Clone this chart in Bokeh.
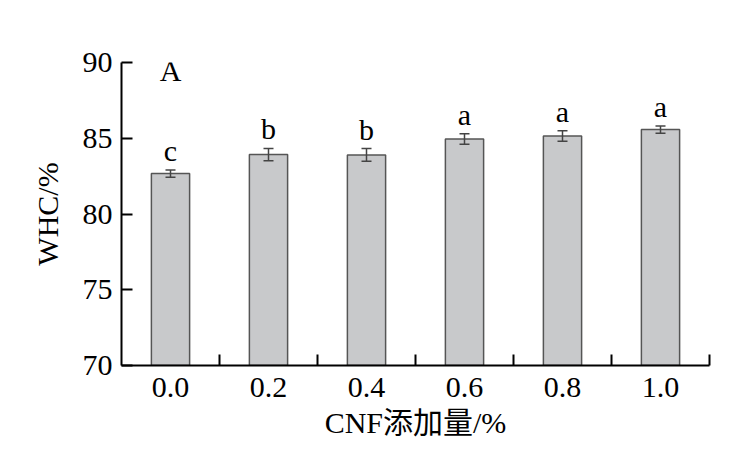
from bokeh.plotting import figure
from bokeh.models import ColumnDataSource, FixedTicker, Whisker, TeeHead, Label, Range1d
from bokeh.core.properties import value
from bokeh.embed import file_html
from bokeh.resources import INLINE

categories = ["0.0", "0.2", "0.4", "0.6", "0.8", "1.0"]
whc = [82.67, 83.92, 83.90, 84.95, 85.15, 85.57]
err = [0.24, 0.41, 0.42, 0.35, 0.35, 0.24]
letters = ["c", "b", "b", "a", "a", "a"]
y_ticks = [70, 75, 80, 85, 90]
panel_tag = "A"

SERIF = "Liberation Serif"
LABEL_FONT = "Liberation Serif, Noto Sans CJK SC"
LETTER_PAD = 0.2  # gap between error-bar top and letter, in y units

xs = [i + 0.5 for i in range(len(categories))]
upper = [v + e for v, e in zip(whc, err)]
lower = [v - e for v, e in zip(whc, err)]
source = ColumnDataSource(dict(
    x=xs, top=whc, upper=upper, lower=lower,
    letter_y=[u + LETTER_PAD for u in upper],
    letter=letters,
))

p = figure(width=729, height=457, output_backend="svg", toolbar_location=None,
           x_range=Range1d(0, len(categories)), y_range=Range1d(70, 90),
           min_border_left=121, min_border_right=20, min_border_top=62, min_border_bottom=92)
p.outline_line_color = None
p.xgrid.visible = False
p.ygrid.visible = False

p.vbar(x="x", top="top", bottom=70, width=0.39, source=source,
       fill_color="#c8c9cb", line_color="#555555", line_width=1.5)

w = Whisker(base="x", upper="upper", lower="lower", source=source, level="overlay",
            line_color="#444444", line_width=1.5,
            upper_head=TeeHead(size=10, line_color="#444444", line_width=1.5),
            lower_head=TeeHead(size=10, line_color="#444444", line_width=1.5))
p.add_layout(w)

p.text(x="x", y="letter_y", text="letter", source=source, text_align="center",
       text_baseline="bottom", text_font=value(SERIF),
       text_font_size="30px", text_color="black")

p.add_layout(Label(x=0.39, y=89.5, text=panel_tag, text_font=SERIF,
                   text_font_size="30px", text_color="black", text_baseline="alphabetic"))

# x axis
p.xaxis.ticker = FixedTicker(ticks=xs, minor_ticks=[i + 1 for i in range(len(categories))])
p.xaxis.major_label_overrides = {x: c for x, c in zip(xs, categories)}
p.xaxis.major_tick_in = 0
p.xaxis.major_tick_out = 0
p.xaxis.minor_tick_in = 11
p.xaxis.minor_tick_out = 0
p.xaxis.minor_tick_line_width = 2
p.xaxis.minor_tick_line_color = "black"
p.xaxis.axis_label = "CNF添加量/%"

# y axis
p.yaxis.ticker = FixedTicker(ticks=y_ticks, minor_ticks=[])
p.yaxis.major_tick_in = 11
p.yaxis.major_tick_out = 0
p.yaxis.major_tick_line_width = 2
p.yaxis.minor_tick_line_color = None
p.yaxis.axis_label = "WHC/%"

for ax in (p.xaxis[0], p.yaxis[0]):
    ax.axis_line_width = 2
    ax.axis_line_color = "black"
    ax.major_tick_line_color = "black"
    ax.major_label_text_font = SERIF
    ax.major_label_text_font_size = "30px"
    ax.major_label_text_color = "black"
    ax.axis_label_text_font = LABEL_FONT
    ax.axis_label_text_font_size = "30px"
    ax.axis_label_text_font_style = "normal"
    ax.axis_label_text_color = "black"

p.xaxis.major_label_standoff = 12
p.yaxis.major_label_standoff = 9
p.xaxis.axis_label_standoff = 6
p.yaxis.axis_label_standoff = 16

open("out.html", "w").write(file_html(p, INLINE))
